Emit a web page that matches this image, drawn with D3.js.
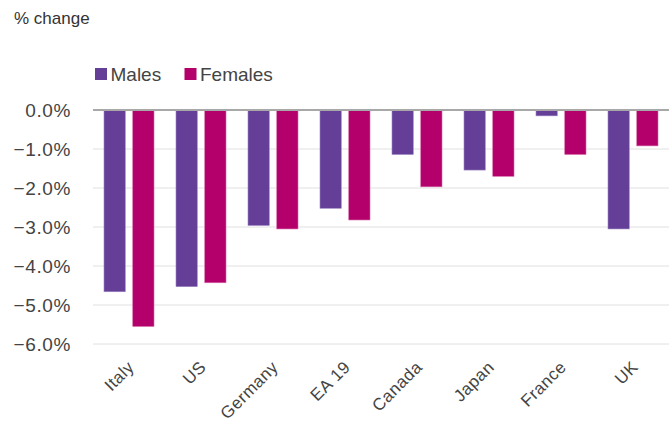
<!DOCTYPE html>
<html lang="en">
<head>
    <meta charset="UTF-8">
    <script src="https://d3js.org/d3.v7.min.js"></script>
    <title>% change by sex</title>
    <style>
        body { margin: 0; background: #fff; }
        svg text { font-family: "Liberation Sans", Arial, sans-serif; fill: #333; }
    </style>
</head>
<body>
    <div id="chart"></div>
    <script>

        // data
        const countries = ['Italy', 'US', 'Germany', 'EA 19', 'Canada', 'Japan', 'France', 'UK'];
        const males   = [-4.66, -4.53, -2.96, -2.52, -1.14, -1.54, -0.15, -3.05];
        const females = [-5.55, -4.43, -3.05, -2.82, -1.97, -1.70, -1.14, -0.92];
        const seriesNames = ['Males', 'Females'];
        const yTicks = [0, -1, -2, -3, -4, -5, -6];

        const w = 671;
        const h = 425;
        const colors = { Males: '#643e97', Females: '#b4006b' };

        const svg = d3.select('#chart')
                      .append('svg')
                      .attr('width', w)
                      .attr('height', h);

        //scales
        const xScale = d3.scaleBand()
                         .domain(countries)
                         .range([93, 669])
                         .paddingInner(0)
                         .paddingOuter(0);

        const xInner = d3.scaleBand()
                         .domain(seriesNames)
                         .range([11, 61])
                         .paddingInner(0.26);

        const yScale = d3.scaleLinear()
                         .domain([0, -6])
                         .range([110, 344]);

        //gridlines
        svg.append('g')
           .selectAll('line')
           .data(yTicks.filter(d => d !== 0))
           .enter()
           .append('line')
           .attr('x1', 93)
           .attr('x2', 669)
           .attr('y1', d => yScale(d))
           .attr('y2', d => yScale(d))
           .attr('stroke', '#e0e0e0')
           .attr('stroke-width', 1);

        //y axis labels
        const yAxis = d3.axisLeft(yScale)
                        .tickValues(yTicks)
                        .tickFormat(d => d3.format('.1f')(d) + '%')
                        .tickSize(0)
                        .tickPadding(0);
        const gy = svg.append('g')
                      .attr('transform', 'translate(71, 0)')
                      .call(yAxis);
        gy.select('.domain').remove();
        gy.selectAll('text')
          .style('fill', '#444')
          .style('font-size', '19px')
          .style('letter-spacing', '0.6px');

        //bars
        const rows = countries.map((c, i) => ({ country: c, Males: males[i], Females: females[i] }));
        const groups = svg.append('g')
                          .selectAll('g')
                          .data(rows)
                          .enter()
                          .append('g')
                          .attr('transform', d => 'translate(' + xScale(d.country) + ',0)');

        groups.selectAll('rect')
              .data(d => seriesNames.map(k => ({ key: k, value: d[k] })))
              .enter()
              .append('rect')
              .attr('x', d => xInner(d.key))
              .attr('y', yScale(0))
              .attr('width', xInner.bandwidth())
              .attr('height', d => yScale(d.value) - yScale(0))
              .attr('fill', d => colors[d.key])
              .attr('stroke', d => d.key === 'Males' ? '#9a85c0' : '#d66aa8')
              .attr('stroke-width', 0.6);

        //zero line
        svg.append('line')
           .attr('x1', 93)
           .attr('x2', 669)
           .attr('y1', yScale(0))
           .attr('y2', yScale(0))
           .attr('stroke', '#a8a8a8')
           .attr('stroke-width', 2);

        //x labels
        const xAxis = d3.axisBottom(xScale).tickSize(0).tickPadding(0);
        const gx = svg.append('g')
                      .attr('transform', 'translate(0, 362)')
                      .call(xAxis);
        gx.select('.domain').remove();
        gx.selectAll('text')
          .attr('text-anchor', 'end')
          .attr('dy', '0.35em')
          .attr('dx', 0)
          .attr('y', 0)
          .attr('transform', 'translate(2,2) rotate(-45)')
          .style('fill', '#444')
          .style('font-size', '17px')
          .style('letter-spacing', '0.5px');

        //title
        svg.append('text')
           .text('% change')
           .attr('x', 14)
           .attr('y', 24)
           .style('font-size', '17px');

        //legend
        const legend = svg.append('g')
                          .selectAll('g')
                          .data(seriesNames)
                          .enter()
                          .append('g')
                          .attr('transform', (d, i) => 'translate(' + (95 + i * 89.5) + ',68)');
        legend.append('rect')
              .attr('width', 12)
              .attr('height', 12)
              .attr('fill', d => colors[d]);
        legend.append('text')
              .text(d => d)
              .attr('x', 15.5)
              .attr('y', 12.5)
              .style('fill', '#444')
              .style('font-size', '19px');

    </script>
</body>
</html>
